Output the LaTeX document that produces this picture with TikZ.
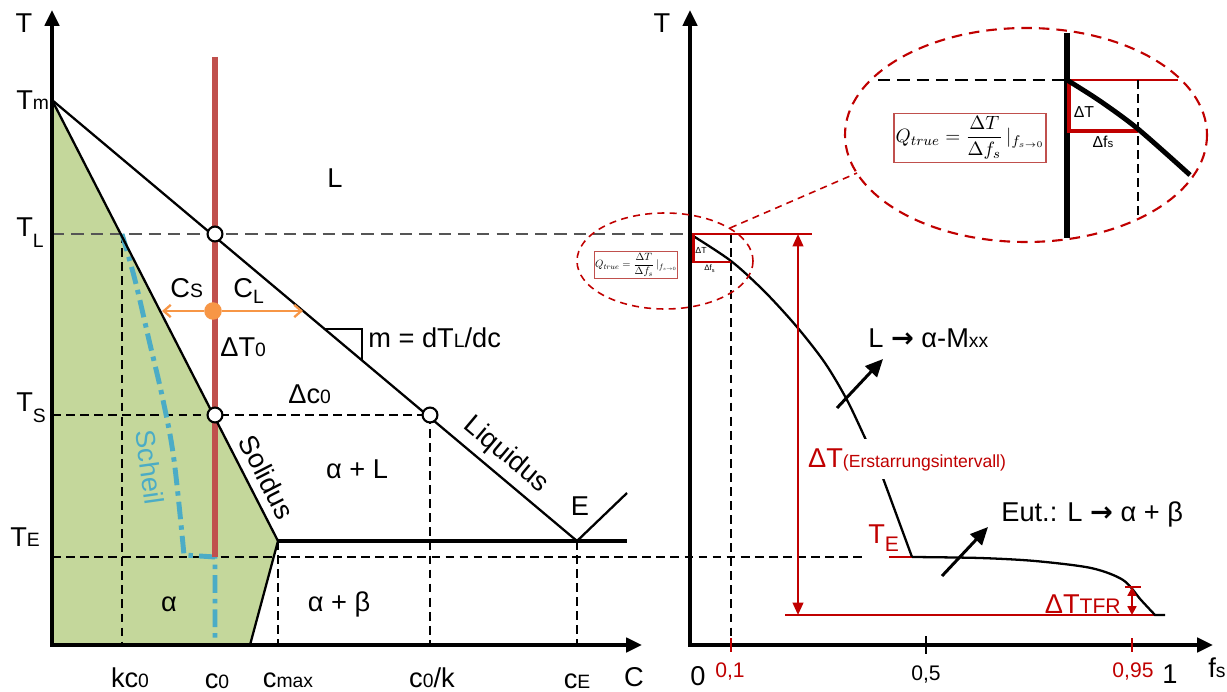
\documentclass[tikz,border=0pt]{standalone}
\usepackage{amsmath}
\usepackage{fontspec}
\setmainfont{Liberation Sans}
\newfontfamily\arrowfont{DejaVu Sans}
\usetikzlibrary{arrows.meta}
\definecolor{colAlpha}{RGB}{196,215,155}
\definecolor{colConc}{RGB}{192,80,77}
\definecolor{colScheil}{RGB}{75,172,198}
\definecolor{colDiff}{RGB}{247,150,70}
\definecolor{colMark}{RGB}{192,0,0}
\definecolor{colGuide}{RGB}{85,85,85}
\newcommand{\sm}[1]{{\fontsize{11}{11}\selectfont #1}}
\newcommand{\lo}[2][6pt]{\raisebox{-#1}{\fontsize{11}{11}\selectfont #2}}
\newcommand{\toarr}{{\arrowfont\bfseries →}}
\newcommand{\Qtrue}{$Q_{true}=\dfrac{\Delta T}{\Delta f_s}\,|_{f_{s\to0}}$}

\begin{document}
\begin{tikzpicture}[
  x=0.02cm, y=-0.02cm,
  lbl/.style={font=\fontsize{15.5}{18}\selectfont, inner sep=0pt, anchor=base},
  tick/.style={font=\fontsize{12}{14}\selectfont, inner sep=0pt, anchor=base},
  axis/.style={line width=2.2pt, -{Triangle[length=9pt, width=8pt]}},
  phase/.style={line width=1.3pt},
  guide/.style={line width=0.6pt, dash pattern=on 5pt off 3pt},
  hollow/.style={circle, draw, fill=white, line width=1.2pt, minimum size=8.5pt, inner sep=0pt},
  zoomring/.style={draw=colMark, line width=0.9pt, dash pattern=on 4pt off 3pt},
  qbox/.style={draw=colConc, line width=0.8pt, fill=white, inner sep=1pt,
               font=\fontsize{11}{13}\selectfont, minimum width=84pt, minimum height=28pt},
  pointer/.style={line width=1.7pt, -{Triangle[length=10pt, width=9pt]}},
  interval/.style={colMark, line width=1.2pt, {Triangle[length=7pt, width=6pt]}-{Triangle[length=7pt, width=6pt]}},
]
\useasboundingbox (0,0) rectangle (1227,692);

% phase diagram
\coordinate (O) at (52,645);
\coordinate (Tm) at (52,100);
\coordinate (E) at (577,541);
\coordinate (Cmax) at (278,541);
\coordinate (Solv) at (250,645);
\coordinate (Eend) at (627,541);
\coordinate (Etop) at (627,493);
\fill[colAlpha] (Tm) -- (Cmax) -- (Solv) -- (O) -- cycle;

\draw[guide, colGuide, line width=1.1pt, dash pattern=on 7pt off 4pt] (52,234) -- (690,234);
\draw[guide] (52,415) -- (430,415);
\draw[guide] (52,557) -- (866,557);
\draw[guide] (122,234) -- (122,645);
\draw[guide] (430,415) -- (430,645);
\draw[guide] (Cmax) -- (278,645);
\draw[guide] (E) -- (577,645);

\draw[colScheil, line width=2.8pt, dash pattern=on 10pt off 3.5pt on 2.5pt off 3.5pt]
  plot[smooth, tension=0.6] coordinates {(122,234) (135,280) (149,340) (163,400) (174,460) (184,555)}
  -- (215,557) -- (215,645);
\draw[colConc, line width=3pt] (215,57) -- (215,557);

\draw[phase] (Tm) -- (E) -- (Etop);
\draw[phase] (Tm) -- (Cmax) -- (Solv);
\draw[line width=2.2pt] (Cmax) -- (Eend);
\draw[line width=1.2pt] (325,329) -- (362,329) -- (362,360);

\draw[axis] (O) -- (52,10);
\draw[axis] (50,645) -- (642,645);

\node[hollow] (pL) at (215,234) {};
\node[hollow] (pS) at (215,415) {};
\node[hollow] (pK) at (430,415) {};

\coordinate (sS) at (162,311);
\coordinate (sL) at (303,311);
\node[circle, fill=colDiff, minimum size=10pt, inner sep=0pt] (cs) at (213,311) {};
\draw[colDiff, line width=1.3pt, -{Straight Barb[length=4pt, width=7pt]}] (cs) -- (sS);
\draw[colDiff, line width=1.3pt, -{Straight Barb[length=4pt, width=7pt]}] (cs) -- (sL);

\node[lbl] (tT) at (24,33) {T};
\node[lbl, anchor=base west] (tTm) at (16,110) {T\sm{m}};
\node[lbl, anchor=base west] (tTL) at (16,237) {T\lo{L}};
\node[lbl, anchor=base west] (tTS) at (16,412) {T\lo{S}};
\node[lbl, anchor=base west] (tTE) at (10,546) {T\sm{E}};
\node[lbl] (tL) at (335,188) {L};
\node[lbl, anchor=base west] (tCS) at (170,298) {C\sm{S}};
\node[lbl, anchor=base west] (tCL) at (233,298) {C\lo[3pt]{L}};
\node[lbl, anchor=base west] (tdT) at (220,357) {ΔT\sm{0}};
\node[lbl, anchor=base west] (tm) at (368,348) {m = dT\sm{L}/dc};
\node[lbl, anchor=base west] (tdc) at (288,403) {Δc\sm{0}};
\node[lbl] (taL) at (357,478) {α + L};
\node[lbl] (ta) at (169,611) {α};
\node[lbl] (tab) at (339,611) {α + β};
\node[lbl] (tE) at (580,515) {E};
\node[lbl, anchor=center, rotate=-62.9] (tsol) at (267,477) {Solidus};
\node[lbl, anchor=center, rotate=-40] (tliq) at (506,455) {Liquidus};
\node[lbl, anchor=center, rotate=-82, text=colScheil] (tsch) at (150,467) {Scheil};

\node[lbl] (tkc) at (130,687) {kc\sm{0}};
\node[lbl] (tc0) at (217,688) {c\sm{0}};
\node[lbl] (tcm) at (288,687) {c\sm{max}};
\node[lbl] (tck) at (432,687) {c\sm{0}/k};
\node[lbl] (tcE) at (577,688) {c\sm{E}};
\node[lbl] (tC) at (634,686) {C};

% cooling curve
\coordinate (O2) at (690,645);
\draw[guide] (731,234) -- (731,645);
\draw[colMark, line width=1.2pt] (690,234) -- (812,234);
\draw[colMark, line width=1.2pt] (785,615) -- (1155,615);
\draw[colMark, line width=1.2pt] (889,557) -- (912,557);
\draw[line width=1.3pt] plot[smooth] coordinates {(690,234) (731,261) (765,292) (797,327) (825,363) (847,400) (866,440) (880,470)} -- (912,557);
\draw[line width=1.3pt] plot[smooth] coordinates {(912,557) (980,558) (1035,561) (1091,568) (1123,580) (1141,600) (1155,615)} -- (1165,615);

\draw[axis] (O2) -- (690,10);
\draw[axis] (688,645) -- (1213,645);
\draw[colMark, line width=1.7pt] (693,234) -- (693,262) -- (731,262);

\draw[colMark, line width=1.2pt] (731,638) -- (731,652);
\draw[line width=1.5pt] (926,636) -- (926,654);
\draw[colMark, line width=1.2pt] (1132,638) -- (1132,652);

\coordinate (dTtop) at (798,234);
\coordinate (dTbot) at (798,615);
\draw[interval] (dTtop) -- (dTbot);
\draw[colMark, line width=1.2pt] (1125,587) -- (1141,587);
\coordinate (tfrTop) at (1132,587);
\coordinate (tfrBot) at (1132,615);
\draw[colMark, line width=1.2pt, {Triangle[length=5pt, width=5pt]}-{Triangle[length=5pt, width=5pt]}] (tfrTop) -- (tfrBot);

\coordinate (p1s) at (837,408);
\coordinate (p1e) at (883,359);
\draw[pointer] (p1s) -- (p1e);
\coordinate (p2s) at (942,576);
\coordinate (p2e) at (988,527);
\draw[pointer] (p2s) -- (p2e);

\node[lbl] (tT2) at (662,33) {T};
\node[lbl] (t0) at (698,685) {0};
\node[tick, text=colMark] (t01) at (730,677) {0,1};
\node[tick] (t05) at (926,680) {0,5};
\node[tick, text=colMark] (t095) at (1133,677) {0,95};
\node[lbl] (t1) at (1170,683) {1};
\node[lbl, anchor=base west] (tfs) at (1208,677) {f\sm{s}};

\node[lbl, anchor=base west, fill=white, inner xsep=1pt, inner ysep=5pt, text=colMark] (tdTE) at (806,467) {ΔT{\fontsize{10}{10}\selectfont(Erstarrungsintervall)}};
\node[lbl, anchor=base west, text=colMark] (tTE2) at (868,543) {T\raisebox{-5pt}{\fontsize{12}{12}\selectfont E}};
\node[lbl, anchor=base east, text=colMark] (tTFR) at (1121,613) {ΔT{\fontsize{12}{12}\selectfont TFR}};
\node[lbl, anchor=base west] (tLa) at (868,348) {L \toarr{} α-M\sm{xx}};
\node[lbl, anchor=base west] (tEut) at (1001,521) {Eut.: L \toarr{} α + β};

% zoom of the start of solidification
\node[font=\fontsize{5}{6}\selectfont, inner sep=0pt] (sdT) at (701,250) {ΔT};
\node[font=\fontsize{4.5}{5}\selectfont, inner sep=0pt] (sdf) at (710,269) {Δf\textsubscript{s}};
\node[qbox, line width=0.6pt, scale=0.55, transform shape] (qsmall) at (636,265) {\Qtrue};
\draw[zoomring] (665,261) ellipse [x radius=88, y radius=48];
\draw[zoomring] (730,228) -- (857,173);

\draw[zoomring, line width=1.2pt, dash pattern=on 6pt off 4pt] (1026,135) ellipse [x radius=181, y radius=107];
\draw[line width=1.2pt, dash pattern=on 7pt off 4pt] (878,80) -- (1067,80);
\draw[colMark, line width=1pt] (1067,80) -- (1178,80);
\draw[line width=0.8pt, dash pattern=on 5pt off 3pt] (1138,80) -- (1138,218);
\draw[line width=3.4pt] (1067,33) -- (1067,238);
\draw[colMark, line width=2.8pt] (1069,80) -- (1069,131) -- (1138,131);
\draw[line width=2.8pt] plot[smooth] coordinates {(1067,80) (1100,101) (1138,129) (1190,175)};
\node[font=\fontsize{9}{10}\selectfont, inner sep=0pt] (zdT) at (1084,112) {ΔT};
\node[font=\fontsize{9}{10}\selectfont, inner sep=0pt] (zdf) at (1103,142) {Δf{\fontsize{6.5}{7}\selectfont s}};
\node[qbox] (qbig) at (970,138) {\Qtrue};

\end{tikzpicture}
\end{document}
